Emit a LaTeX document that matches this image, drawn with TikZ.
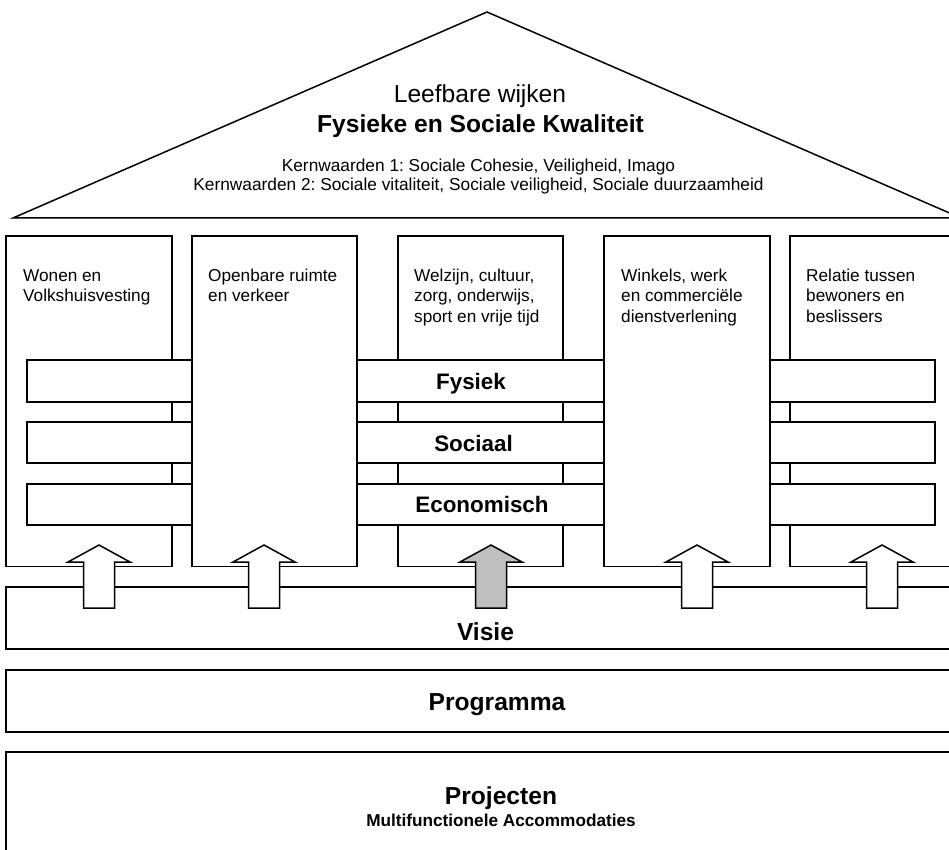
\documentclass[tikz,border=0pt]{standalone}
\usepackage{fontspec}
\setmainfont{Liberation Sans}
\frenchspacing
\begin{document}
\begin{tikzpicture}[x=1pt,y=-1pt,
  outline/.style={draw=black,line width=1.5pt,fill=white,line join=miter},
  smalltext/.style={font=\fontsize{17.2}{20.6}\selectfont,inner sep=0pt,align=left,anchor=base west},
  midtext/.style={font=\fontsize{17.3}{19}\selectfont,inner sep=0pt,anchor=base},
  headtext/.style={font=\fontsize{24.6}{28}\selectfont,inner sep=0pt,anchor=base},
  headbold/.style={font=\fontsize{24.6}{28}\selectfont\bfseries,inner sep=0pt,anchor=base},
  barlabel/.style={font=\fontsize{22.4}{26}\selectfont\bfseries,inner sep=0pt,anchor=base},
  subbold/.style={font=\fontsize{17.2}{20}\selectfont\bfseries,inner sep=0pt,anchor=base},
  pics/uparrow/.style={code={
    \draw[outline,fill=#1] (-15.5,0) -- (-15.5,-46) -- (-31,-46) -- (0,-63)
      -- (31,-46) -- (15.5,-46) -- (15.5,0) -- cycle;}}
]
\useasboundingbox (0,0) rectangle (949,850);
\clip (0,0) rectangle (949,850);

% roof
\draw[outline] (487,12) -- (961,218) -- (13,218) -- cycle;
\node[headtext] (roof1) at (480,103) {Leefbare wijken};
\node[headbold] (roof2) at (480.5,133) {Fysieke en Sociale Kwaliteit};
\node[midtext] (kern1) at (478.5,172) {Kernwaarden 1: Sociale Cohesie, Veiligheid, Imago};
\node[midtext] (kern2) at (478.5,191) {Kernwaarden 2: Sociale vitaliteit, Sociale veiligheid, Sociale duurzaamheid};

% pillars behind the cross bars
\draw[outline] (6,236) rectangle (172,566.5);
\draw[outline] (398,236) rectangle (563,566.5);
\draw[outline] (790,236) rectangle (956,566.5);

% cross bars
\draw[outline] (27,360) rectangle (935,402);
\draw[outline] (27,422) rectangle (935,463);
\draw[outline] (27,484) rectangle (935,525);

% pillars in front of the cross bars
\draw[outline] (192,236) rectangle (357,566.5);
\draw[outline] (604,236) rectangle (770,566.5);

% pillar captions (base anchor sits on the last line)
\node[smalltext] (p1) at (23,301.6) {Wonen en\\Volkshuisvesting};
\node[smalltext] (p2) at (208,301.6) {Openbare ruimte\\en verkeer};
\node[smalltext] (p3) at (414,322.2) {Welzijn, cultuur,\\zorg, onderwijs,\\sport en vrije tijd};
\node[smalltext] (p4) at (621,322.2) {Winkels, werk\\en commerciële\\dienstverlening};
\node[smalltext] (p5) at (806,322.2) {Relatie tussen\\bewoners en\\beslissers};

% bar captions
\node[barlabel] (fys) at (471,389) {Fysiek};
\node[barlabel] (soc) at (473.5,451) {Sociaal};
\node[barlabel] (eco) at (482,512.7) {Economisch};

% foundation layers
\draw[outline] (6,587) rectangle (968,649);
\draw[outline] (6,670) rectangle (968,732);
\draw[outline] (6,752) rectangle (968,900);
\node[headbold] (visie) at (485.5,640.5) {Visie};
\node[headbold] (prog) at (497,710) {Programma};
\node[headbold] (proj) at (501,804) {Projecten};
\node[subbold] (mfa) at (501,826.5) {Multifunctionele Accommodaties};

% block arrows from the vision into the pillars
\pic at (99,608) {uparrow=white};
\pic at (264,608) {uparrow=white};
\pic at (491,608) {uparrow={black!25}};
\pic at (697,608) {uparrow=white};
\pic at (882,608) {uparrow=white};
\end{tikzpicture}
\end{document}
